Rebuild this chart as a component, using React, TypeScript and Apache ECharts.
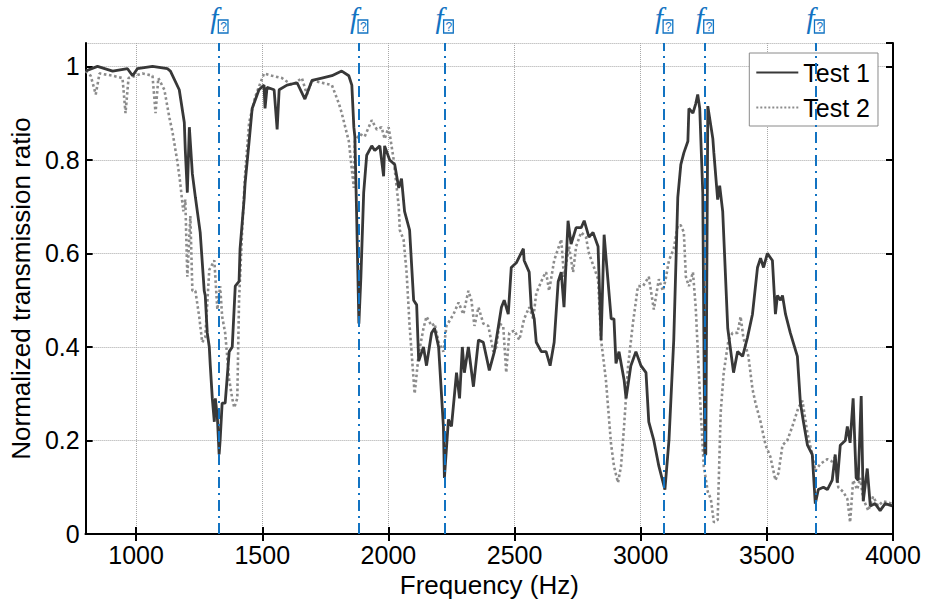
import React, { useEffect, useRef } from "react";
import * as echarts from "echarts";

// Frequency (Hz), normalized transmission ratio
const test1: [number, number][] = [
  [800, 0.99], [847, 1.0], [907, 0.99], [966, 0.995], [986, 0.98], [1005, 0.995], [1065, 1.0], [1124, 0.995],
  [1136, 0.99], [1171, 0.95], [1191, 0.88], [1195, 0.82], [1203, 0.73], [1211, 0.87], [1223, 0.77], [1235, 0.72],
  [1254, 0.645], [1270, 0.52], [1274, 0.51], [1282, 0.43], [1290, 0.4], [1294, 0.36], [1302, 0.29], [1310, 0.24],
  [1314, 0.29], [1322, 0.25], [1329, 0.17], [1333, 0.2], [1341, 0.28], [1353, 0.28], [1369, 0.39], [1381, 0.4],
  [1393, 0.53], [1408, 0.54], [1412, 0.61], [1428, 0.715], [1432, 0.75], [1448, 0.84], [1460, 0.91], [1487, 0.95],
  [1507, 0.96], [1511, 0.91], [1519, 0.955], [1547, 0.95], [1559, 0.865], [1567, 0.95], [1598, 0.96], [1638, 0.965],
  [1669, 0.93], [1697, 0.97], [1736, 0.975], [1776, 0.98], [1815, 0.99], [1843, 0.98], [1855, 0.96], [1863, 0.87],
  [1867, 0.85], [1875, 0.66], [1883, 0.45], [1891, 0.55], [1902, 0.73], [1914, 0.81], [1934, 0.83], [1946, 0.82],
  [1966, 0.83], [1981, 0.765], [1985, 0.83], [2005, 0.8], [2025, 0.79], [2041, 0.74], [2052, 0.76], [2064, 0.69],
  [2084, 0.65], [2100, 0.5], [2112, 0.49], [2120, 0.37], [2139, 0.4], [2151, 0.36], [2171, 0.43], [2183, 0.44],
  [2199, 0.4], [2218, 0.23], [2222, 0.12], [2238, 0.245], [2250, 0.23], [2270, 0.345], [2282, 0.29], [2293, 0.4],
  [2301, 0.345], [2317, 0.4], [2337, 0.315], [2357, 0.415], [2376, 0.41], [2388, 0.38], [2400, 0.35], [2420, 0.39],
  [2448, 0.485], [2459, 0.5], [2475, 0.47], [2487, 0.57], [2507, 0.58], [2535, 0.61], [2538, 0.585], [2558, 0.56],
  [2566, 0.485], [2578, 0.46], [2586, 0.41], [2606, 0.39], [2625, 0.39], [2641, 0.36], [2657, 0.41], [2673, 0.54],
  [2685, 0.56], [2696, 0.485], [2712, 0.67], [2724, 0.62], [2744, 0.655], [2764, 0.655], [2776, 0.67], [2795, 0.635],
  [2811, 0.645], [2831, 0.615], [2843, 0.415], [2855, 0.64], [2883, 0.46], [2894, 0.46], [2902, 0.365], [2914, 0.39],
  [2934, 0.33], [2942, 0.29], [2961, 0.36], [2981, 0.39], [3001, 0.36], [3021, 0.345], [3032, 0.24], [3052, 0.2],
  [3072, 0.145], [3096, 0.095], [3112, 0.2], [3131, 0.415], [3147, 0.72], [3159, 0.79], [3171, 0.815], [3187, 0.84],
  [3191, 0.91], [3207, 0.9], [3218, 0.92], [3226, 0.94], [3234, 0.91], [3246, 0.73], [3254, 0.17], [3258, 0.17],
  [3266, 0.915], [3286, 0.845], [3290, 0.815], [3305, 0.715], [3313, 0.745], [3325, 0.69], [3345, 0.44], [3368, 0.345],
  [3384, 0.39], [3404, 0.38], [3423, 0.42], [3443, 0.47], [3463, 0.57], [3475, 0.59], [3487, 0.57], [3502, 0.6],
  [3522, 0.585], [3534, 0.47], [3542, 0.51], [3554, 0.5], [3562, 0.51], [3574, 0.47], [3593, 0.43], [3621, 0.38],
  [3633, 0.28], [3645, 0.24], [3661, 0.19], [3680, 0.17], [3692, 0.065], [3704, 0.095], [3724, 0.1], [3740, 0.095],
  [3759, 0.115], [3771, 0.17], [3779, 0.11], [3791, 0.19], [3811, 0.2], [3819, 0.23], [3830, 0.195], [3842, 0.29],
  [3854, 0.12], [3862, 0.115], [3874, 0.295], [3882, 0.07], [3898, 0.14], [3910, 0.06], [3929, 0.065], [3949, 0.05],
  [3969, 0.065], [3997, 0.06],
];

const test2: [number, number][] = [
  [800, 0.99], [820, 0.98], [840, 0.94], [855, 0.985], [907, 0.98], [946, 0.975], [958, 0.9], [970, 0.975],
  [1025, 0.985], [1065, 0.98], [1077, 0.9], [1088, 0.975], [1112, 0.95], [1132, 0.89], [1144, 0.86], [1164, 0.795],
  [1175, 0.75], [1187, 0.69], [1195, 0.715], [1203, 0.55], [1215, 0.68], [1223, 0.52], [1235, 0.52], [1250, 0.465],
  [1262, 0.41], [1274, 0.42], [1290, 0.565], [1310, 0.585], [1322, 0.48], [1333, 0.53], [1341, 0.465], [1353, 0.43],
  [1369, 0.33], [1381, 0.29], [1389, 0.27], [1401, 0.29], [1408, 0.5], [1420, 0.645], [1432, 0.77], [1448, 0.88],
  [1472, 0.935], [1507, 0.985], [1539, 0.98], [1578, 0.975], [1618, 0.96], [1657, 0.975], [1677, 0.94], [1697, 0.97],
  [1736, 0.965], [1776, 0.96], [1804, 0.92], [1815, 0.9], [1843, 0.84], [1855, 0.78], [1863, 0.74], [1867, 0.84],
  [1887, 0.855], [1906, 0.85], [1934, 0.885], [1954, 0.865], [1973, 0.87], [1985, 0.845], [2001, 0.87], [2021, 0.8],
  [2041, 0.7], [2045, 0.65], [2060, 0.63], [2072, 0.56], [2084, 0.445], [2104, 0.3], [2120, 0.385], [2139, 0.44],
  [2151, 0.465], [2171, 0.445], [2183, 0.45], [2199, 0.41], [2218, 0.39], [2230, 0.445], [2258, 0.47], [2278, 0.495],
  [2297, 0.47], [2317, 0.52], [2329, 0.5], [2341, 0.445], [2357, 0.485], [2376, 0.45], [2396, 0.445], [2416, 0.39],
  [2428, 0.4], [2440, 0.45], [2455, 0.445], [2467, 0.345], [2479, 0.43], [2499, 0.435], [2519, 0.415], [2538, 0.46],
  [2558, 0.485], [2574, 0.46], [2586, 0.515], [2598, 0.53], [2614, 0.55], [2625, 0.56], [2637, 0.52], [2657, 0.585],
  [2685, 0.63], [2696, 0.55], [2716, 0.615], [2732, 0.56], [2744, 0.615], [2764, 0.645], [2783, 0.635], [2795, 0.6],
  [2815, 0.57], [2831, 0.545], [2843, 0.415], [2862, 0.33], [2882, 0.195], [2894, 0.145], [2910, 0.11], [2922, 0.145],
  [2934, 0.23], [2950, 0.36], [2969, 0.45], [2989, 0.53], [3009, 0.53], [3032, 0.55], [3052, 0.48], [3072, 0.545],
  [3088, 0.52], [3099, 0.545], [3112, 0.585], [3131, 0.61], [3147, 0.66], [3159, 0.66], [3171, 0.645], [3179, 0.55],
  [3191, 0.53], [3207, 0.56], [3218, 0.485], [3238, 0.26], [3250, 0.145], [3266, 0.09], [3278, 0.075], [3290, 0.025],
  [3305, 0.03], [3317, 0.26], [3329, 0.345], [3348, 0.415], [3364, 0.43], [3384, 0.43], [3396, 0.465], [3407, 0.42],
  [3427, 0.38], [3443, 0.31], [3455, 0.28], [3475, 0.24], [3495, 0.19], [3514, 0.165], [3534, 0.115], [3546, 0.13],
  [3562, 0.19], [3581, 0.2], [3601, 0.23], [3625, 0.27], [3641, 0.285], [3661, 0.215], [3680, 0.17], [3692, 0.135],
  [3712, 0.15], [3740, 0.16], [3759, 0.155], [3771, 0.165], [3783, 0.1], [3803, 0.09], [3819, 0.075], [3830, 0.025],
  [3842, 0.115], [3858, 0.095], [3870, 0.12], [3882, 0.075], [3902, 0.05], [3921, 0.08], [3941, 0.06], [3961, 0.07],
  [3997, 0.065],
];

const markerFreqs = [1329, 1883, 2222, 3092, 3253, 3692];
const xTicks = [1000, 1500, 2000, 2500, 3000, 3500, 4000];
const seriesNames = ["Test 1", "Test 2"];

const FONT = "'Liberation Sans', Arial, sans-serif";
const BLUE = "#1273c2";

export default function App() {
  const ref = useRef<HTMLDivElement>(null);
  useEffect(() => {
    if (!ref.current) return;
    const chart = echarts.init(ref.current, undefined, { renderer: "svg" });
    const axisLine = { show: true, lineStyle: { color: "#000", width: 2 } };
    const tickIn = { show: true, inside: true, length: 7, lineStyle: { color: "#000", width: 2 } };
    chart.setOption({
      animation: false,
      backgroundColor: "#fff",
      grid: { left: 83, right: 34, top: 43, bottom: 71, containLabel: false },
      legend: {
        orient: "vertical",
        right: 49,
        top: 53,
        padding: [6, 8, 5, 6],
        itemGap: 8,
        itemWidth: 42,
        itemHeight: 14,
        borderColor: "#8a8a8a",
        borderWidth: 1,
        backgroundColor: "#fff",
        itemStyle: { opacity: 0 },
        data: seriesNames,
        textStyle: { fontFamily: FONT, fontSize: 25, color: "#000", lineHeight: 27 },
      },
      xAxis: [
        {
          type: "value",
          min: 800,
          max: 4000,
          name: "Frequency (Hz)",
          nameLocation: "middle",
          nameGap: 28,
          nameTextStyle: { fontFamily: FONT, fontSize: 26, color: "#000" },
          axisLine,
          axisTick: { ...tickIn, customValues: xTicks },
          axisLabel: {
            customValues: xTicks,
            formatter: (v: number) => String(v),
            fontFamily: FONT,
            fontSize: 25,
            color: "#000",
            margin: 8,
          },
          splitLine: { show: true, lineStyle: { color: "#a8a8a8", width: 1, type: "dotted" } },
        },
        {
          type: "value",
          min: 800,
          max: 4000,
          position: "top",
          axisLine,
          axisTick: { ...tickIn, customValues: xTicks },
          axisLabel: { show: false },
          splitLine: { show: false },
        },
      ],
      yAxis: [
        {
          type: "value",
          min: 0,
          max: 1.05,
          interval: 0.2,
          name: "Normalized transmission ratio",
          nameLocation: "middle",
          nameGap: 46,
          nameTextStyle: { fontFamily: FONT, fontSize: 26, color: "#000" },
          axisLine,
          axisTick: tickIn,
          axisLabel: { fontFamily: FONT, fontSize: 25, color: "#000", margin: 6, showMaxLabel: false },
          splitLine: { show: true, lineStyle: { color: "#a8a8a8", width: 1, type: "dotted" } },
        },
        {
          type: "value",
          min: 0,
          max: 1.05,
          interval: 0.2,
          position: "right",
          axisLine,
          axisTick: tickIn,
          axisLabel: { show: false },
          splitLine: { show: false },
        },
      ],
      series: [
        {
          name: seriesNames[1],
          type: "line",
          data: test2,
          showSymbol: false,
          symbol: "none",
          clip: true,
          z: 2,
          lineStyle: { color: "#8c8c8c", width: 2.6, type: "dotted" },
          itemStyle: { color: "#8c8c8c" },
        },
        {
          name: seriesNames[0],
          type: "line",
          data: test1,
          showSymbol: false,
          symbol: "none",
          clip: true,
          z: 3,
          lineStyle: { color: "#383838", width: 2.8, type: "solid" },
          itemStyle: { color: "#383838" },
          markLine: {
            silent: true,
            symbol: "none",
            z: 5,
            lineStyle: { color: BLUE, width: 2, type: [11, 5, 2, 5] },
            label: {
              show: true,
              position: "end",
              distance: 10,
              formatter: "{f|f}{s|?}",
              rich: {
                f: {
                  fontFamily: "'Liberation Serif', serif",
                  fontStyle: "italic",
                  fontSize: 29,
                  lineHeight: 30,
                  color: BLUE,
                },
                s: {
                  fontFamily: FONT,
                  fontSize: 12,
                  lineHeight: 12,
                  color: BLUE,
                  borderColor: BLUE,
                  borderWidth: 1.3,
                  padding: [1, 1, 0, 2],
                  verticalAlign: "bottom",
                },
              },
            },
            data: markerFreqs.map((f) => ({ xAxis: f })),
          },
        },
      ],
    });
    return () => chart.dispose();
  }, []);
  return (
    <div
      ref={ref}
      style={{ position: "fixed", left: 0, top: 0, width: 927, height: 605, background: "#fff" }}
    />
  );
}
